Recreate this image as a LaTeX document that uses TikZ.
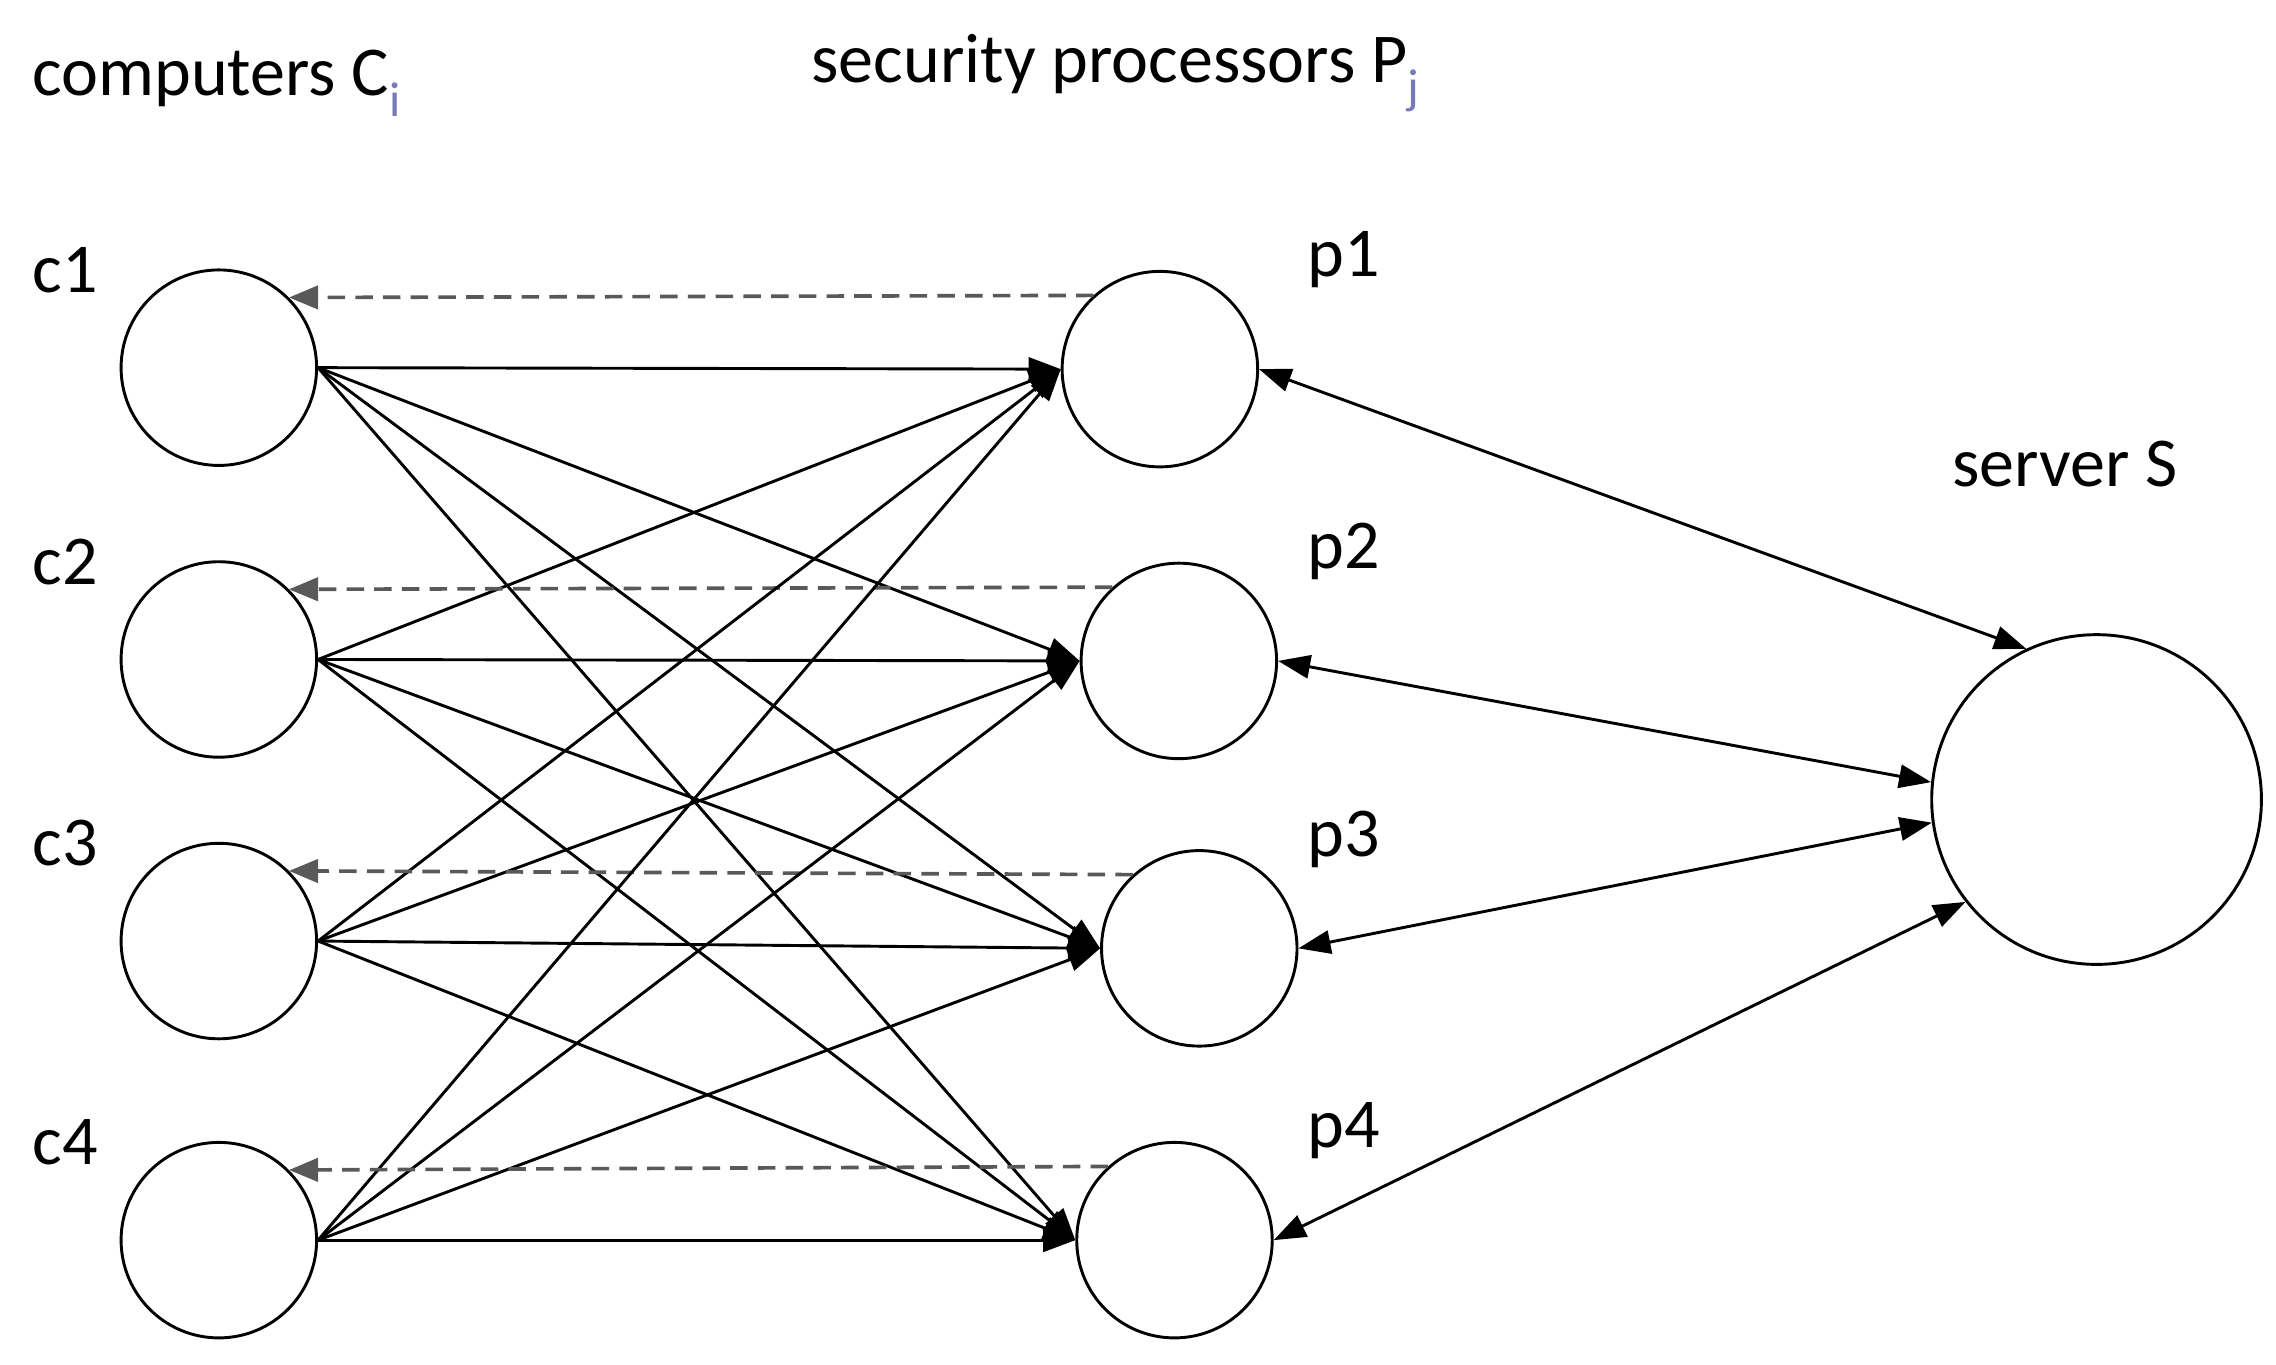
\documentclass[tikz,border=0pt]{standalone}
\usepackage{fontspec}
\setmainfont{Carlito}
\usetikzlibrary{arrows.meta}
\begin{document}
\begin{tikzpicture}[x=1pt,y=-1pt,
  nd/.style={circle,draw,line width=2pt,minimum size=134pt,inner sep=0pt},
  lbl/.style={font=\fontsize{48}{54}\selectfont,inner sep=0pt,anchor=west},
  ar/.style={line width=2pt,-{Triangle[length=22pt,width=16pt]}},
  dar/.style={line width=2pt,{Triangle[length=22pt,width=16pt]}-{Triangle[length=22pt,width=16pt]}},
  dsh/.style={line width=2.5pt,gray!70!black,dashed,dash pattern=on 12pt off 7pt,-{Triangle[length=20pt,width=16pt]}}]
\useasboundingbox (0,0) rectangle (1560,935);
\foreach \n/\y in {1/252,2/452,3/645,4/850}{
  \node[nd] (c\n) at (150,\y) {};
  \node[lbl] (lc\n) at (22,\y-67) {c\n};
}
\foreach \n/\x/\y in {1/795/253,2/808/453,3/822/650,4/805/850}{
  \node[nd] (p\n) at (\x,\y) {};
  \node[lbl] (lp\n) at (896,\y-75) {p\n};
}
\node[nd,minimum size=226pt] (S) at (1437,548) {};
\node[lbl] (ls) at (1338,318) {server S};
\node[lbl] (tc) at (22,57) {computers C\textsubscript{\color{blue!30!gray!80}i}};
\node[lbl] (tp) at (556,50) {security processors P\textsubscript{\color{blue!30!gray!80}j}};
\foreach \i in {1,...,4}{
  \foreach \j in {1,...,4}{
    \draw[ar] (c\i.east) -- (p\j.west);
  }
  \draw[dsh] (p\i.132) -- (c\i.45);
}
\draw[dar] (p1.east) -- (S.115);
\draw[dar] (p2.east) -- (S.174);
\draw[dar] (p3.east) -- (S.188);
\draw[dar] (p4.east) -- (S.218);
\end{tikzpicture}
\end{document}
